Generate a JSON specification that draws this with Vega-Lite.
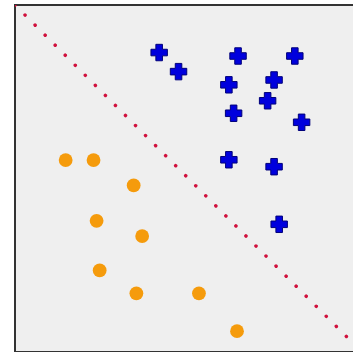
{
  "$schema": "https://vega.github.io/schema/vega-lite/v6.json",
  "autosize": "none",
  "width": 340,
  "height": 347,
  "padding": {"left": 15, "top": 5, "right": 0, "bottom": 0},
  "background": "white",
  "config": {
    "view": {"fill": "#efefef", "stroke": "#333333", "strokeWidth": 2}
  },
  "datasets": {
    "pts": [
      {"x": 42.4, "y": 86.3, "g": "blue"},
      {"x": 48.1, "y": 80.8, "g": "blue"},
      {"x": 65.6, "y": 85.3, "g": "blue"},
      {"x": 82.3, "y": 85.3, "g": "blue"},
      {"x": 62.9, "y": 77.0, "g": "blue"},
      {"x": 76.2, "y": 78.4, "g": "blue"},
      {"x": 74.3, "y": 72.4, "g": "blue"},
      {"x": 64.3, "y": 68.8, "g": "blue"},
      {"x": 84.3, "y": 66.2, "g": "blue"},
      {"x": 62.9, "y": 55.4, "g": "blue"},
      {"x": 76.2, "y": 53.4, "g": "blue"},
      {"x": 77.7, "y": 36.8, "g": "blue"},
      {"x": 14.9, "y": 55.3, "g": "orange"},
      {"x": 23.1, "y": 55.3, "g": "orange"},
      {"x": 34.9, "y": 48.0, "g": "orange"},
      {"x": 24.0, "y": 37.8, "g": "orange"},
      {"x": 37.4, "y": 33.4, "g": "orange"},
      {"x": 24.9, "y": 23.5, "g": "orange"},
      {"x": 35.7, "y": 16.9, "g": "orange"},
      {"x": 54.1, "y": 16.9, "g": "orange"},
      {"x": 65.3, "y": 6.0, "g": "orange"}
    ],
    "line": [
      {"x": 0, "y": 100},
      {"x": 100, "y": 2.0}
    ]
  },
  "layer": [
    {
      "data": {"name": "line"},
      "mark": {"type": "line", "color": "#d0103c", "strokeWidth": 3.5, "strokeDash": [0.1, 14.1], "strokeCap": "round", "clip": true},
      "encoding": {
        "x": {"field": "x", "type": "quantitative", "scale": {"domain": [0, 100], "nice": false, "zero": false}, "axis": null},
        "y": {"field": "y", "type": "quantitative", "scale": {"domain": [0, 100], "nice": false, "zero": false}, "axis": null}
      }
    },
    {
      "data": {"name": "pts"},
      "transform": [{"filter": "datum.g === 'orange'"}],
      "mark": {"type": "point", "shape": "circle", "filled": true, "color": "#f59b0c", "opacity": 1, "size": 190},
      "encoding": {
        "x": {"field": "x", "type": "quantitative", "scale": {"domain": [0, 100], "nice": false, "zero": false}, "axis": null},
        "y": {"field": "y", "type": "quantitative", "scale": {"domain": [0, 100], "nice": false, "zero": false}, "axis": null}
      }
    },
    {
      "data": {"name": "pts"},
      "transform": [{"filter": "datum.g === 'blue'"}],
      "mark": {"type": "point", "shape": "cross", "filled": true, "fill": "#0000dd", "stroke": "#00007a", "strokeWidth": 1, "opacity": 1, "size": 270},
      "encoding": {
        "x": {"field": "x", "type": "quantitative", "scale": {"domain": [0, 100], "nice": false, "zero": false}, "axis": null},
        "y": {"field": "y", "type": "quantitative", "scale": {"domain": [0, 100], "nice": false, "zero": false}, "axis": null}
      }
    }
  ]
}
